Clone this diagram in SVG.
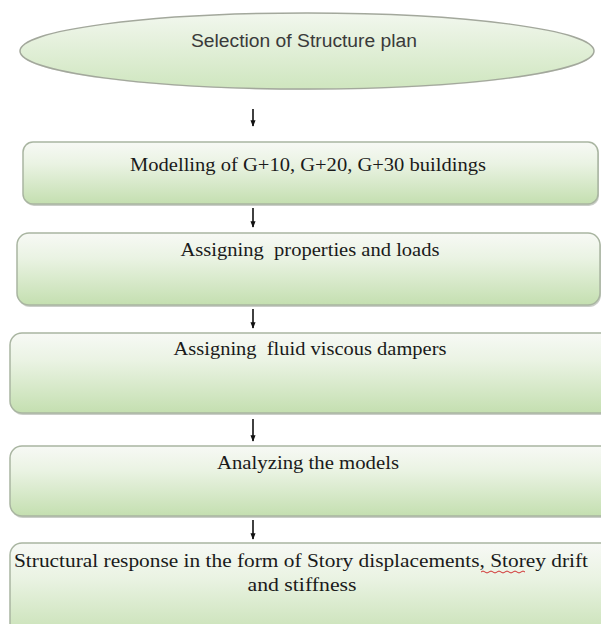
<svg xmlns="http://www.w3.org/2000/svg" width="601" height="624" viewBox="0 0 601 624">
<defs>
<linearGradient id="g" x1="0" y1="0" x2="0" y2="1">
<stop offset="0" stop-color="#f7f9f5"/>
<stop offset="0.35" stop-color="#eaf3e3"/>
<stop offset="1" stop-color="#c4dfb0"/>
</linearGradient>
<linearGradient id="ge" x1="0" y1="0" x2="0" y2="1">
<stop offset="0" stop-color="#f2f7ee"/>
<stop offset="1" stop-color="#cfe6bf"/>
</linearGradient>
<marker id="ah" viewBox="0 0 10 10" refX="9" refY="5" markerWidth="4" markerHeight="4" markerUnits="strokeWidth" orient="auto">
<path d="M0,1 L10,5 L0,9 z" fill="#111"/>
</marker>
</defs>
<style>
.box{fill:url(#g);stroke:#a9b5a1;stroke-width:1.5}
.sh{fill:#9ea59a;opacity:0.55}
.ell{fill:url(#ge);stroke:#a3a89c;stroke-width:1.5}
.sans{font-family:"Liberation Sans","Open Sans",Arial,sans-serif;font-size:18px;fill:#3a3a3a}
.serif{font-family:"Liberation Serif","Times New Roman",serif;font-size:18px;fill:#1a1a1a}
.conn line{stroke:#111;stroke-width:1.6;marker-end:url(#ah)}
</style>
<rect width="601" height="624" fill="#ffffff"/>
<g id="n1">
<ellipse cx="307" cy="52" rx="287" ry="38" fill="#c8ccc4" opacity="0.5"/>
<ellipse class="ell" cx="307" cy="51" rx="287" ry="38"/>
<text class="sans" x="304" y="47" text-anchor="middle" textLength="226" lengthAdjust="spacingAndGlyphs">Selection of Structure plan</text>
</g>
<g id="n2">
<rect class="sh" x="24" y="144" width="575" height="62" rx="10"/>
<rect class="box" x="23" y="142" width="575" height="62" rx="10"/>
<text class="serif" x="308" y="171" text-anchor="middle" textLength="356" lengthAdjust="spacingAndGlyphs">Modelling of G+10, G+20, G+30 buildings</text>
</g>
<g id="n3">
<rect class="sh" x="18" y="235" width="583" height="72" rx="12"/>
<rect class="box" x="17" y="233" width="583" height="72" rx="12"/>
<text class="serif" x="310" y="256" text-anchor="middle" textLength="259" lengthAdjust="spacingAndGlyphs" xml:space="preserve">Assigning  properties and loads</text>
</g>
<g id="n4">
<rect class="sh" x="11" y="335" width="610" height="80" rx="12"/>
<rect class="box" x="10" y="333" width="610" height="80" rx="12"/>
<text class="serif" x="310" y="355" text-anchor="middle" textLength="273" lengthAdjust="spacingAndGlyphs" xml:space="preserve">Assigning  fluid viscous dampers</text>
</g>
<g id="n5">
<rect class="sh" x="11" y="448" width="610" height="70" rx="12"/>
<rect class="box" x="10" y="446" width="610" height="70" rx="12"/>
<text class="serif" x="308" y="469" text-anchor="middle" textLength="182" lengthAdjust="spacingAndGlyphs">Analyzing the models</text>
</g>
<g id="n6">
<rect class="box" x="10" y="543" width="610" height="100" rx="12"/>
<text class="serif" x="301" y="567" text-anchor="middle" textLength="574" lengthAdjust="spacingAndGlyphs">Structural response in the form of Story displacements, Storey drift</text>
<path d="M481,572 q2,-2 4,0 t4,0 t4,0 t4,0 t4,0 t4,0 t4,0 t4,0 t4,0 t4,0 t4,0" fill="none" stroke="#d03030" stroke-width="1"/>
<text class="serif" x="302" y="591" text-anchor="middle" textLength="109" lengthAdjust="spacingAndGlyphs">and stiffness</text>
</g>
<g class="conn" id="connectors">
<line x1="253" y1="109" x2="253" y2="126"/>
<line x1="253" y1="208" x2="253" y2="227"/>
<line x1="253" y1="309" x2="253" y2="328"/>
<line x1="253" y1="419" x2="253" y2="441"/>
<line x1="253" y1="520" x2="253" y2="539"/>
</g>
</svg>
